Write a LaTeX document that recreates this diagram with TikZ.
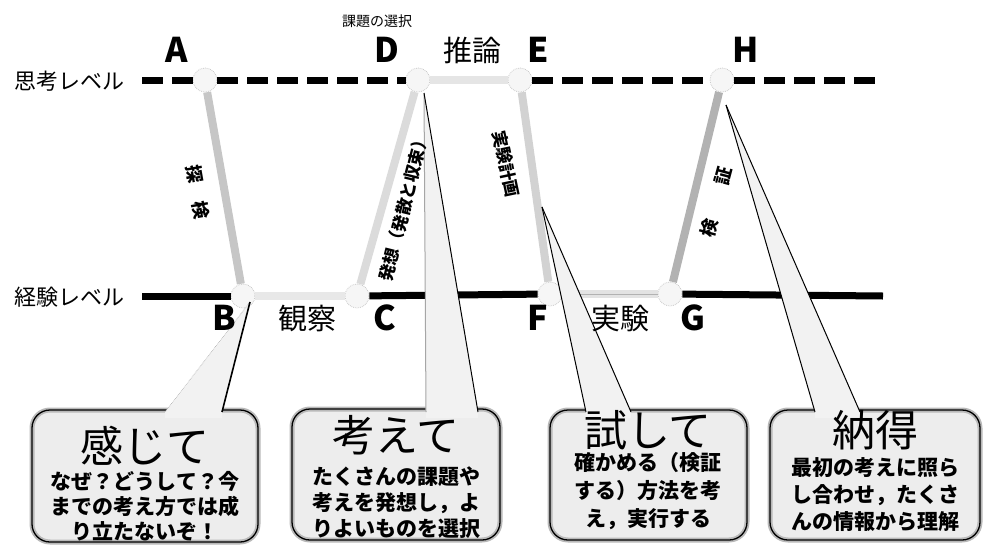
\documentclass[tikz,border=0pt]{standalone}
\usepackage{fontspec}
\setmainfont{Noto Sans CJK JP}
\begin{document}
\begin{tikzpicture}[x=1pt,y=-1pt,
  vtx/.style={circle,minimum size=24pt,inner sep=0pt,fill=gray!7,draw=gray!40,densely dotted,line width=0.8pt},
  lvl/.style={font=\fontsize{22}{26}\selectfont},
  letter/.style={font=\bfseries\fontsize{34}{40}\selectfont},
  word/.style={font=\fontsize{29}{34}\selectfont},
  smalltxt/.style={font=\fontsize{14}{17}\selectfont},
  side/.style={font=\bfseries\fontsize{17}{20}\selectfont,inner sep=1pt},
  dashedline/.style={line width=7pt,dash pattern=on 21pt off 9pt,black},
  solidline/.style={line width=7pt,black},
  pathline/.style={line width=8pt},
  callbox/.style={rectangle,rounded corners=18pt,fill=gray!14,draw=gray!55,line width=5pt,outer sep=0pt,inner sep=0pt},
  wedgefill/.style={fill=gray!10},
  title/.style={font=\fontsize{43}{50}\selectfont},
  body/.style={align=center,font=\bfseries\fontsize{21}{26}\selectfont},
]
\useasboundingbox (0,0) rectangle (985,544);
% level line ends
\coordinate (tl) at (142,80);
\coordinate (tr) at (876,80);
\coordinate (bl) at (142,296);
\coordinate (br) at (883,296);
% vertices
\node[vtx] (A) at (205,80) {};
\node[vtx] (B) at (243,296) {};
\node[vtx] (C) at (357,296) {};
\node[vtx] (D) at (418,80) {};
\node[vtx] (E) at (520,80) {};
\node[vtx] (F) at (550,294) {};
\node[vtx] (G) at (670,294) {};
\node[vtx] (H) at (722,80) {};
% level lines
\draw[dashedline] (tl) -- (A);
\draw[dashedline] (A) -- (D);
\draw[dashedline] (E) -- (H);
\draw[dashedline] (H) -- (tr);
\draw[solidline] (bl) -- (B);
\draw[solidline] (C) -- (F);
\draw[solidline] (G) -- (br);
% process path
\draw[pathline,gray!45] (A) -- (B);
\draw[pathline,gray!18] (B) -- (C);
\draw[pathline,gray!28] (C) -- (D);
\draw[pathline,gray!20] (D) -- (E);
\draw[pathline,gray!35] (E) -- (F);
\draw[pathline,gray!22] (F) -- (G);
\draw[gray!60,line width=1pt] (F) -- (G);
\draw[pathline,gray!60] (G) -- (H);
% callout boxes
\node[callbox,minimum width=226pt,minimum height=132pt] (b1) at (145,476) {};
\node[callbox,minimum width=208pt,minimum height=131pt] (b2) at (396,474.5) {};
\node[callbox,minimum width=197pt,minimum height=130pt] (b3) at (648.5,475) {};
\node[callbox,minimum width=210pt,minimum height=130pt] (b4) at (875,475) {};
\foreach \b in {b1,b2,b3,b4}{
  \draw[black,line width=1.3pt,rounded corners=18pt] (\b.north west) rectangle (\b.south east);
}
% wedges
\coordinate (p1) at (250,302);
\coordinate (p1l) at (165,412);
\coordinate (p1r) at (222,412);
\coordinate (p2) at (424,93);
\coordinate (p2l) at (426,412);
\coordinate (p2r) at (478,412);
\coordinate (p3) at (542,207);
\coordinate (p3l) at (586,412);
\coordinate (p3r) at (631,412);
\coordinate (p4) at (726,105);
\coordinate (p4l) at (815,412);
\coordinate (p4r) at (860,412);
\fill[wedgefill] (p1) -- (p1l) -- ++(0,6) -| (p1r) -- cycle;
\fill[wedgefill] (p2) -- (p2l) -- ++(0,6) -| (p2r) -- cycle;
\fill[wedgefill] (p3) -- (p3l) -- ++(0,6) -| (p3r) -- cycle;
\fill[wedgefill] (p4) -- (p4l) -- ++(0,6) -| (p4r) -- cycle;
\draw[gray!70,line width=0.6pt,densely dotted] (p1) -- (p1l);
\draw[black,line width=1.6pt] (p1) -- (p1r);
\draw[gray!70,line width=1pt] (p2) -- (p2l);
\draw[black,line width=1pt] (p2) -- (p2r);
\draw[black,line width=1pt] (p3) -- (p3l);
\draw[black,line width=1pt] (p3) -- (p3r);
\draw[black,line width=1pt] (p4) -- (p4l);
\draw[black,line width=1pt] (p4) -- (p4r);
% level labels
\node[lvl] (think) at (69,81) {思考レベル};
\node[lvl] (exper) at (69,297) {経験レベル};
% point letters
\node[letter] (lA) at (177,50) {A};
\node[letter] (lD) at (387,50) {D};
\node[letter] (lE) at (538,50) {E};
\node[letter] (lH) at (746,50) {H};
\node[letter] (lB) at (224,318) {B};
\node[letter] (lC) at (385,318) {C};
\node[letter] (lF) at (538,318) {F};
\node[letter] (lG) at (693,318) {G};
% words
\node[smalltxt] (kadai) at (377,21) {課題の選択};
\node[word] (suiron) at (472,50) {推論};
\node[word] (kansatsu) at (307,319) {観察};
\node[word] (jikken) at (620,319) {実験};
% side labels
\node[side,font=\bfseries\fontsize{18}{20}\selectfont,rotate=-80] (tanken) at (198,192) {探　検};
\node[side,rotate=76] (hasso) at (404,207) {発想（発散と収束）};
\node[side,rotate=-78] (keikaku) at (506,164) {実験計画};
\node[side,font=\bfseries\fontsize{18}{20}\selectfont,rotate=75] (kensho) at (716,202) {検　　証};
% box texts
\node[title] (t1) at (145,446) {感じて};
\node[body,font=\bfseries\fontsize{21}{25}\selectfont] (x1) at (145,506) {なぜ？どうして？今\\までの考え方では成\\り立たないぞ！};
\node[title] (t2) at (396,435) {考えて};
\node[body] (x2) at (396,503) {たくさんの課題や\\考えを発想し，よ\\りよいものを選択};
\node[title] (t3) at (648,430) {試して};
\node[body,font=\bfseries\fontsize{21}{28}\selectfont] (x3) at (648,491) {確かめる（検証\\する）方法を考\\え，実行する};
\node[title] (t4) at (875,430) {納得};
\node[body,font=\bfseries\fontsize{21}{27}\selectfont] (x4) at (875,495) {最初の考えに照ら\\し合わせ，たくさ\\んの情報から理解};
\end{tikzpicture}
\end{document}
